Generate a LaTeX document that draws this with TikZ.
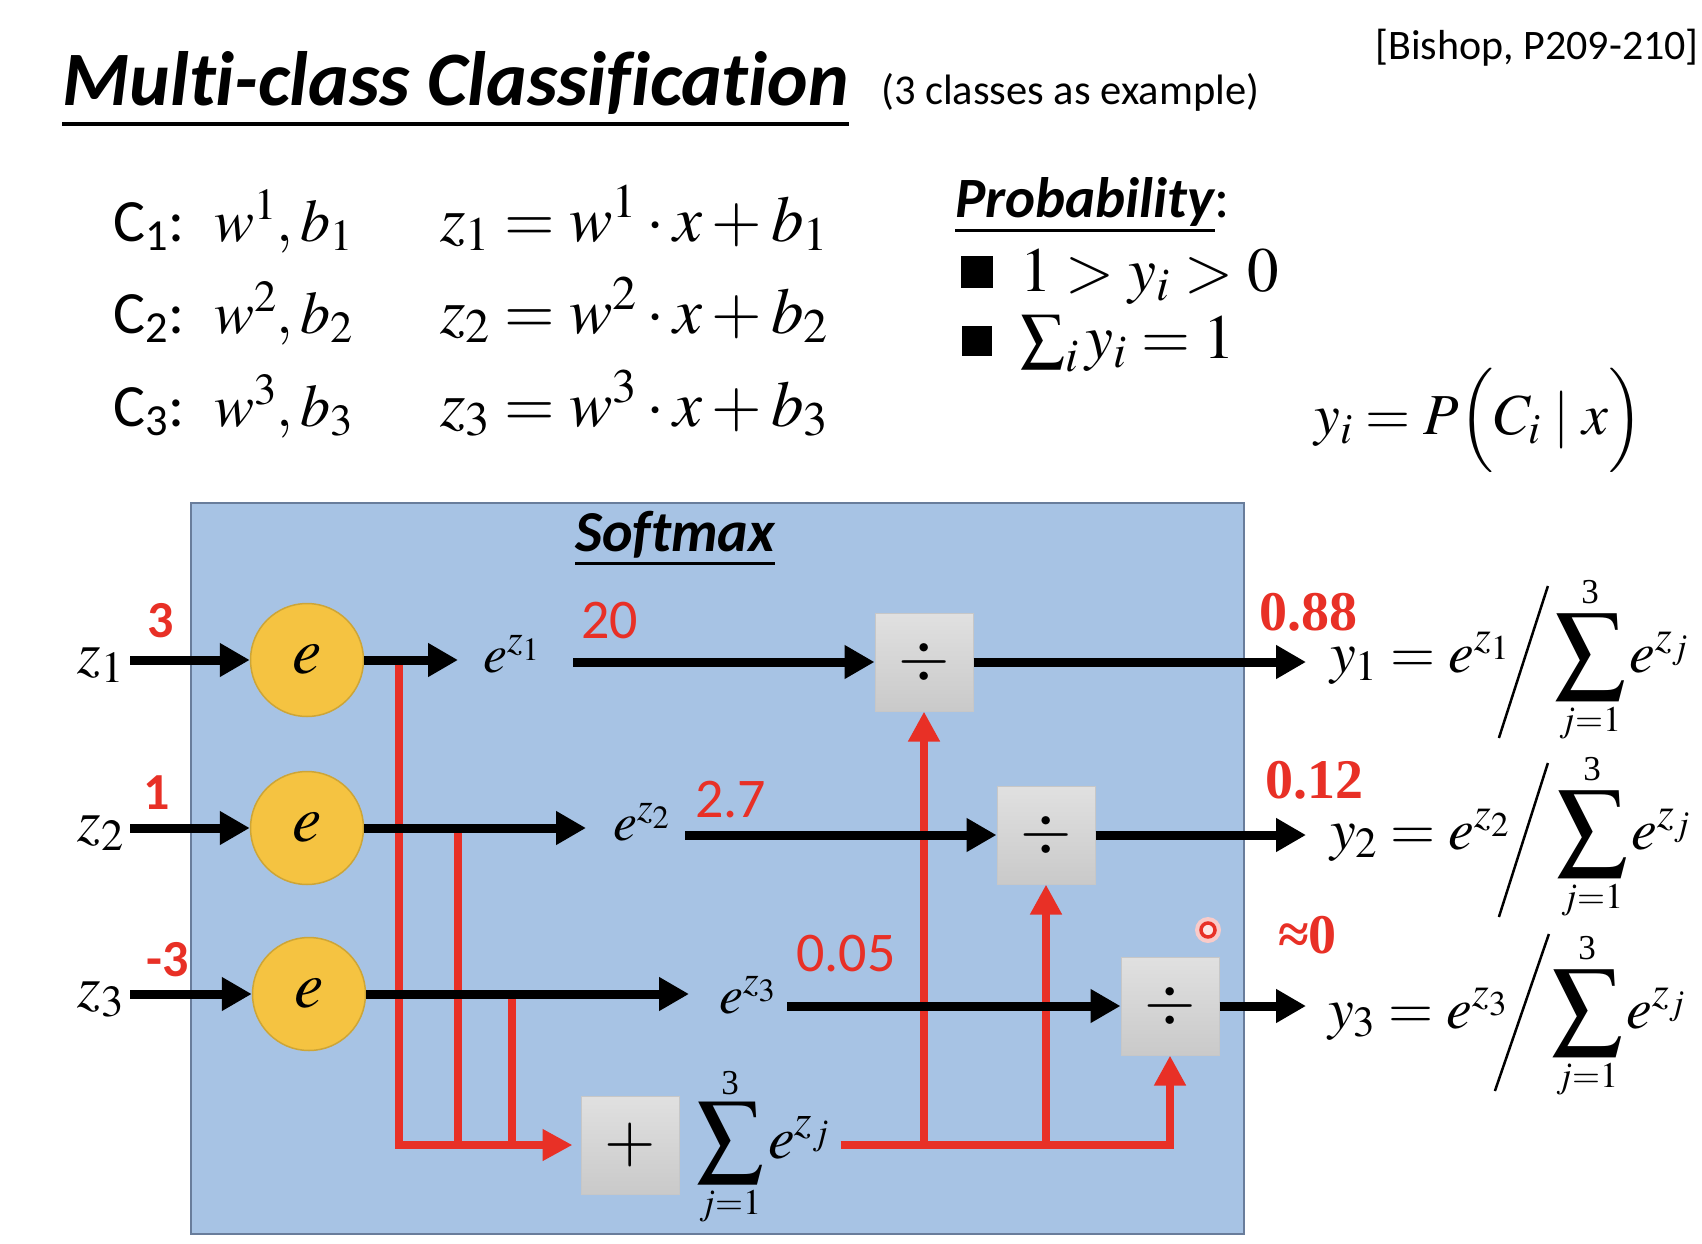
\documentclass[tikz,border=0pt]{standalone}
\usepackage{mathptmx}
\usepackage[no-math]{fontspec}
\setmainfont{Liberation Serif}
\newfontfamily\calib[Ligatures=NoCommon]{Carlito}
\usetikzlibrary{arrows.meta,calc}
\definecolor{boxblue}{RGB}{167,195,228}
\definecolor{boxedge}{RGB}{105,125,155}
\definecolor{expyellow}{RGB}{245,195,65}
\definecolor{expedge}{RGB}{205,165,55}
\definecolor{sigred}{RGB}{232,48,38}
\newcommand{\fsz}[1]{\fontsize{#1}{#1}\selectfont}

\begin{document}
\begin{tikzpicture}[x=1pt,y=-1pt,
    every node/.style={inner sep=0pt},
    txt/.style={font=\fsz{60}},
    expnode/.style={circle,draw=expedge,line width=1.5pt,fill=expyellow,minimum size=113pt,font=\fsz{66}},
    opbox/.style={draw=black!22,line width=1pt,top color=black!12,bottom color=black!21,minimum width=98pt,minimum height=98pt,font=\fsz{66}},
    flow/.style={line width=9pt,-{Triangle[length=30pt,width=32pt]}},
    sumline/.style={draw=sigred,line width=8pt},
    sumflow/.style={sumline,-{Triangle[length=30pt,width=30pt]}},
    rednum/.style={text=sigred,font=\calib\bfseries\fsz{52}},
    redval/.style={text=sigred,font=\calib\fsz{56}},
    outval/.style={text=sigred,font=\bfseries\fsz{56}},
    outmath/.style={anchor=base west,font=\fsz{58}},
    expmath/.style={anchor=base west,font=\fsz{54}},
    sigma/.style={font=\fsz{70}},
    sigtop/.style={anchor=south,font=\fsz{35}},
    sigbot/.style={anchor=north,font=\fsz{36}},
    slash/.style={line width=2.5pt}]
	\useasboundingbox (0,0) rectangle (1702,1244);
	\fill[white] (0,0) rectangle (1702,1244);

	% Title
	\node[anchor=base west,font=\calib\bfseries\itshape\fsz{77}] (title) at (62,106) {Multi-class Classification};
	\draw[line width=4pt] ([yshift=-18pt]title.base west) -- ([yshift=-18pt]title.base east);
	\node[anchor=base west,font=\calib\fsz{42.5}] (subtitle) at (881,105) {(3 classes as example)};
	\node[anchor=base east,font=\calib\fsz{42}] (source) at (1699,60) {[Bishop, P209-210]};

	% Class parameters
	\node[anchor=base west,txt] (class1) at (113,241) {{\calib C\textsubscript{1}:}\enspace$w^1,b_1$};
	\node[anchor=base west,txt] (class2) at (113,333) {{\calib C\textsubscript{2}:}\enspace$w^2,b_2$};
	\node[anchor=base west,txt] (class3) at (113,426) {{\calib C\textsubscript{3}:}\enspace$w^3,b_3$};
	\node[anchor=base west,font=\fsz{65}] (lin1) at (440,241) {$z_1=w^1\cdot x+b_1$};
	\node[anchor=base west,font=\fsz{65}] (lin2) at (440,333) {$z_2=w^2\cdot x+b_2$};
	\node[anchor=base west,font=\fsz{65}] (lin3) at (440,426) {$z_3=w^3\cdot x+b_3$};

	% Probability
	\node[anchor=base west,font=\calib\bfseries\itshape\fsz{57}] (prob) at (955,217) {Probability};
	\node[anchor=base west,font=\calib\fsz{57}] (probcolon) at (prob.base east) {:};
	\draw[line width=3pt] ([yshift=-13pt]prob.base west) -- ([yshift=-13pt]prob.base east);
	\node[fill=black,minimum size=32pt] (bul1) at (977,272) {};
	\node[anchor=base west,font=\fsz{63}] (cond1) at (1020,291) {$1>y_i>0$};
	\node[fill=black,minimum size=30pt] (bul2) at (977,341) {};
	\node[anchor=base west,font=\fsz{63}] (cond2) at (1020,358) {$\sum_i y_i=1$};
	\node[font=\fsz{58}] (post) at (1479,420) {$y_i=P\Bigl(C_i\mid x\Bigr)$};

	% Softmax block
	\draw[fill=boxblue,draw=boxedge,line width=1.5pt] (191,503) rectangle (1244,1234);
	\node[anchor=base west,font=\calib\bfseries\itshape\fsz{58}] (softmax) at (575,551) {Softmax};
	\draw[line width=3pt] ([yshift=-12pt]softmax.base west) -- ([yshift=-12pt]softmax.base east);

	\node[expnode] (ex1) at (307,660) {$e$};
	\node[expnode] (ex2) at (307,828) {$e$};
	\node[expnode] (ex3) at (309,994) {$e$};
	\node[anchor=base east,txt] (z1) at (124,673) {$z_1$};
	\node[anchor=base east,txt] (z2) at (124,841) {$z_2$};
	\node[anchor=base east,txt] (z3) at (124,1007) {$z_3$};
	\node[rednum] (in1) at (161,621) {3};
	\node[rednum] (in2) at (157,793) {1};
	\node[rednum] (in3) at (168,960) {-3};

	\node[expmath] (ez1) at (483,672) {$e^{z_1}$};
	\node[expmath] (ez2) at (613,840) {$e^{z_2}$};
	\node[expmath] (ez3) at (719,1013) {$e^{z_3}$};
	\node[redval,anchor=west] (v1) at (581,621) {20};
	\node[redval,anchor=west] (v2) at (695,800) {2.7};
	\node[redval,anchor=west] (v3) at (796,954) {0.05};

	\node[opbox] (div1) at (924,662) {$\div$};
	\node[opbox] (div2) at (1046,835) {$\div$};
	\node[opbox] (div3) at (1170,1006) {$\div$};
	\node[opbox] (plus) at (630,1145) {$+$};
	\node[sigma,font=\fsz{66}] (sigp) at (730,1143) {$\displaystyle\sum$};
	\node[sigtop] (sigpup) at ([yshift=7pt]sigp.north) {3};
	\node[sigbot] (sigplow) at ([yshift=-6pt]sigp.south) {$j{=}1$};
	\node[anchor=base west,font=\fsz{60}] (sump) at ([xshift=4pt,yshift=-15pt]sigp.east) {$e^{z_j}$};

	% pointer mark
	\fill[sigred!25] (1208,930) circle (13);
	\node[circle,draw=sigred,line width=3.5pt,fill=sigred!12,minimum size=14pt] (pointer) at (1208,930) {};

	% Sum paths
	\coordinate (br1) at (399,660);
	\coordinate (br2) at (458,828);
	\coordinate (br3) at (512,994);
	\draw[sumflow,shorten >=8pt] (br1) |- (plus.west);
	\draw[sumline] (br2) -- (br2 |- plus);
	\draw[sumline] (br3) -- (br3 |- plus);
	\draw[sumflow] ([xshift=11pt]sump.east |- plus) -| (div3.south);
	\draw[sumflow] (div1.south |- plus) -- (div1.south);
	\draw[sumflow] (div2.south |- plus) -- (div2.south);

	% Outputs
	\node[outmath] (out1) at (1330,672) {$y_1=e^{z_1}$};
	\node[sigma] (sig1) at (1590,657) {$\displaystyle\sum$};
	\node[sigtop] (sig1up) at ([yshift=9pt]sig1.north) {3};
	\node[sigbot] (sig1low) at ([yshift=-7pt]sig1.south) {$j{=}1$};
	\node[outmath] (den1) at ([xshift=3pt,yshift=-15pt]sig1.east) {$e^{z_j}$};
	\draw[slash] ([shift={(-55,81)}]sig1.west) -- ([shift={(-6,-71)}]sig1.west);
	\node[outval,anchor=base west] (p1) at (1259,630) {0.88};

	\node[outmath] (out2) at (1330,849) {$y_2=e^{z_2}$};
	\node[sigma] (sig2) at (1592,834) {$\displaystyle\sum$};
	\node[sigtop] (sig2up) at ([yshift=9pt]sig2.north) {3};
	\node[sigbot] (sig2low) at ([yshift=-7pt]sig2.south) {$j{=}1$};
	\node[outmath] (den2) at ([xshift=3pt,yshift=-15pt]sig2.east) {$e^{z_j}$};
	\draw[slash] ([shift={(-57,83)}]sig2.west) -- ([shift={(-8,-71)}]sig2.west);
	\node[outval,anchor=base west] (p2) at (1265,798) {0.12};

	\node[outmath] (out3) at (1328,1028) {$y_3=e^{z_3}$};
	\node[sigma] (sig3) at (1587,1013) {$\displaystyle\sum$};
	\node[sigtop] (sig3up) at ([yshift=9pt]sig3.north) {3};
	\node[sigbot] (sig3low) at ([yshift=-7pt]sig3.south) {$j{=}1$};
	\node[outmath] (den3) at ([xshift=3pt,yshift=-15pt]sig3.east) {$e^{z_j}$};
	\draw[slash] ([shift={(-56,78)}]sig3.west) -- ([shift={(-2,-79)}]sig3.west);
	\node[outval,anchor=base west] (p3) at (1278,953) {≈0};

	% Main flow
	\draw[flow] ([xshift=6pt]z1.east |- ex1) -- (ex1.west);
	\draw[flow] ([xshift=6pt]z2.east |- ex2) -- (ex2.west);
	\draw[flow] ([xshift=6pt]z3.east |- ex3) -- (ex3.west);
	\draw[flow] (ex1.east) -- ([xshift=-25pt]ez1.west |- ex1);
	\draw[flow] (ex2.east) -- ([xshift=-27pt]ez2.west |- ex2);
	\draw[flow] (ex3.east) -- ([xshift=-30pt]ez3.west |- ex3);
	\draw[flow] ([xshift=33pt]ez1.east |- div1) -- (div1.west);
	\draw[flow] ([xshift=15pt]ez2.east |- div2) -- (div2.west);
	\draw[flow] ([xshift=11pt]ez3.east |- div3) -- (div3.west);
	\draw[flow] (div1.east) -- ([xshift=-24pt]out1.west |- div1);
	\draw[flow] (div2.east) -- ([xshift=-24pt]out2.west |- div2);
	\draw[flow] (div3.east) -- ([xshift=-22pt]out3.west |- div3);
\end{tikzpicture}
\end{document}
